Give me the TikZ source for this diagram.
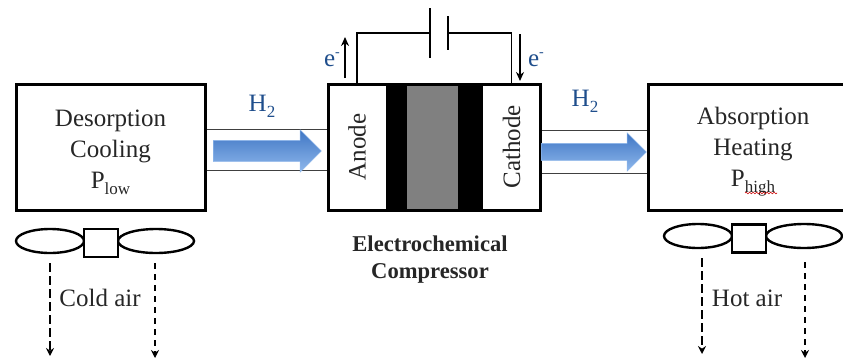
\documentclass[tikz,border=0pt]{standalone}
\usepackage{fontspec}
\setmainfont{Liberation Serif}
\usetikzlibrary{arrows.meta,shapes.geometric,shapes.arrows,decorations.pathmorphing}
\definecolor{labelblue}{HTML}{1F4E8C}
\definecolor{arrowtop}{HTML}{3F76C4}
\definecolor{arrowbot}{HTML}{8FB8EC}
\newcommand{\lowtext}[1]{\raisebox{-6pt}{\fontsize{17}{17}\selectfont #1}}
\newcommand{\hightext}[1]{\raisebox{10pt}{\fontsize{14}{14}\selectfont #1}}
\begin{document}
\begin{tikzpicture}[
  x=1pt, y=-1pt,
  every node/.style={font=\fontsize{25}{31}\selectfont, text=black!85},
  bed/.style={draw, line width=3pt, align=center, inner sep=0pt, minimum height=126pt},
  cell/.style={minimum height=126pt, inner sep=0pt},
  wire/.style={draw, line width=1.5pt},
  pipe/.style={draw, line width=1pt, black!75},
  plate/.style={fill=black, inner sep=0pt, minimum width=2pt},
  blade/.style={ellipse, draw, line width=2.4pt, fill=white, inner sep=0pt, minimum height=24pt},
  hub/.style={draw, line width=2.6pt, fill=white, inner sep=0pt, minimum width=34pt, minimum height=28pt},
  charge/.style={-{Stealth[length=9pt,width=8pt]}, line width=1.6pt},
  airthick/.style={-{Stealth[length=8pt,width=8pt]}, line width=2.6pt, dash pattern=on 9pt off 4pt},
  airthin/.style={-{Stealth[length=8pt,width=8pt]}, line width=1.7pt, dash pattern=on 6pt off 5pt},
  flow/.style={single arrow, single arrow head extend=10.5pt, single arrow head indent=0pt,
    inner sep=10.5pt, draw=arrowbot, top color=arrowtop, bottom color=arrowbot},
  gas/.style={text=labelblue}
]
\path[use as bounding box, clip] (0,0) rectangle (843,359);

\node[bed, minimum width=189pt] (desorption) at (110.5,147) {\rule{0pt}{27pt}Desorption\\Cooling\\P\lowtext{low}};
\node[bed, minimum width=210pt] (absorption) at (753,147) {\rule{0pt}{27pt}Absorption\\Heating\\P\lowtext{high}};

\node[cell, minimum width=58pt, fill=white] (anode) at (357,147) {\rotatebox{90}{Anode}};
\node[cell, minimum width=21pt, fill=black] (layerA) at (396.5,147) {};
\node[cell, minimum width=51pt, fill=black!50] (membrane) at (432.5,147) {};
\node[cell, minimum width=25pt, fill=black] (layerC) at (470.5,147) {};
\node[cell, minimum width=57pt, fill=white] (cathode) at (511.5,147) {\rotatebox{90}{Cathode}};
\node[bed, minimum width=212pt] (compressor) at (434,147) {};

\draw[pipe] ([yshift=18pt]desorption.east) -- ([yshift=18pt]compressor.west);
\draw[pipe] ([yshift=-23pt]desorption.east) -- ([yshift=-23pt]compressor.west);
\draw[pipe] ([yshift=17pt]compressor.east) -- ([yshift=17pt]absorption.west);
\draw[pipe] ([yshift=-26pt]compressor.east) -- ([yshift=-26pt]absorption.west);

\node[flow, minimum height=108pt] (flowA) at (262,151) {};
\node[flow, minimum height=105pt, inner sep=8.5pt, single arrow head extend=10.5pt] (flowB) at (589.5,152) {};

\node[gas] (gasA) at (262,106) {H\lowtext{2}};
\node[gas] (gasB) at (585,101) {H\lowtext{2}};

\node[plate, minimum height=50pt] (plateA) at (430,33) {};
\node[plate, minimum height=34pt] (plateC) at (448,33) {};
\draw[wire] (anode.north) |- (plateA.west);
\draw[wire] (cathode.north) |- (plateC.east);

\coordinate (chargeA) at (345,78);
\coordinate (chargeAend) at (345,37);
\coordinate (chargeC) at (520,34);
\coordinate (chargeCend) at (520,81);
\draw[charge] (chargeA) -- (chargeAend);
\draw[charge] (chargeC) -- (chargeCend);
\node[gas] (electronA) at (332,60) {e\hightext{-}};
\node[gas] (electronC) at (536,60) {e\hightext{-}};

\node[font=\fontsize{22.6}{27}\selectfont\bfseries, align=center] (title) at (430,260) {Electrochemical\\Compressor};

\node[blade, minimum width=68pt] (bladeA) at (50,241) {};
\node[blade, minimum width=76pt] (bladeB) at (156,241) {};
\node[hub] (hubL) at (101,243) {};
\node[blade, minimum width=68pt] (bladeC) at (698,236) {};
\node[blade, minimum width=76pt] (bladeD) at (804,236) {};
\node[hub] (hubR) at (749,238.5) {};

\coordinate (airA) at (50,356);
\coordinate (airB) at (155,358);
\coordinate (airC) at (702,354);
\coordinate (airD) at (805,358);
\draw[airthick] ([yshift=-9pt]bladeA.south) -- (airA);
\draw[airthin] ([yshift=-9pt]bladeB.south -| airB) -- (airB);
\draw[airthick] ([yshift=-9pt]bladeC.south -| airC) -- (airC);
\draw[airthin] ([yshift=-13pt]bladeD.south -| airD) -- (airD);

\node (coldair) at (100,298) {Cold air};
\node (hotair) at (747,298) {Hot air};

\coordinate (squiggleA) at (745,193);
\coordinate (squiggleB) at (777,193);
\draw[red!80!black, line width=.6pt, decorate, decoration={snake, amplitude=.8pt, segment length=3.5pt}] (squiggleA) -- (squiggleB);
\end{tikzpicture}
\end{document}
